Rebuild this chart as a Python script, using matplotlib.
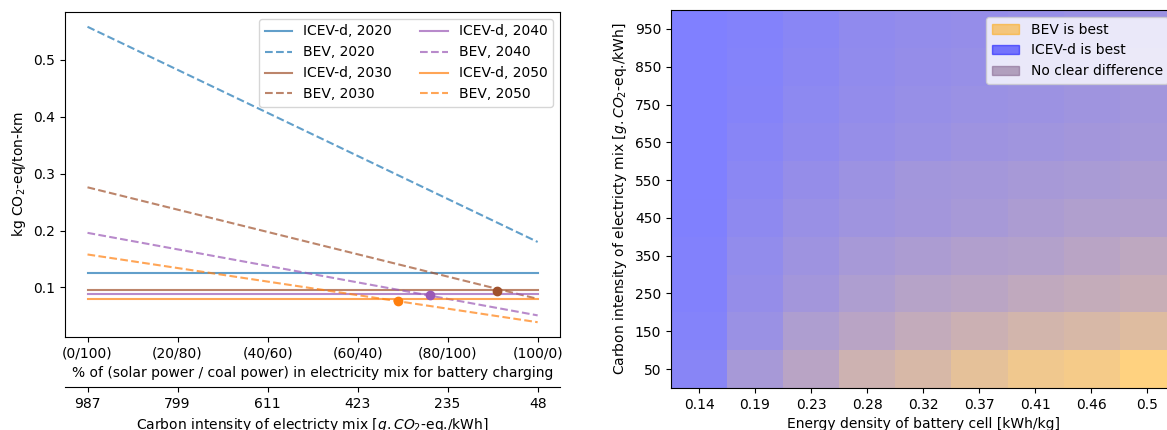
import numpy as np
import matplotlib
matplotlib.use("Agg")
import matplotlib.pyplot as plt
import matplotlib.patches as mpatches
from matplotlib.colors import LinearSegmentedColormap

# ---- left panel data ----
mix_ticks = [0, 20, 40, 60, 80, 100]
mix_labels = ['(0/100)', '(20/80)', '(40/60)', '(60/40)', '(80/100)', '(100/0)']
intensity_labels = ['987', '799', '611', '423', '235', '48']

years = [2020, 2030, 2040, 2050]
year_colors = ['tab:blue', 'sienna', '#9b59b6', 'tab:orange']
icev = [0.126, 0.096, 0.088, 0.0795]
bev_start = [0.558, 0.276, 0.196, 0.158]
bev_end = [0.180, 0.080, 0.051, 0.039]

# break-even points (2030, 2040, 2050)
cross_x = [91, 76, 69]
cross_y = [0.0935, 0.0865, 0.076]
cross_colors = ['sienna', '#9b59b6', 'tab:orange']

# ---- right panel data ----
energy_density = ['0.14', '0.19', '0.23', '0.28', '0.32', '0.37', '0.41', '0.46', '0.5']
intensity_rows = [50, 150, 250, 350, 450, 550, 650, 750, 850, 950]
# share of runs where BEV is best (rows from 50 up to 950)
bev_share = [
    [0.07, 0.31, 0.45, 0.61, 0.69, 0.80, 0.88, 0.92, 1.00],
    [0.04, 0.21, 0.37, 0.45, 0.53, 0.59, 0.65, 0.69, 0.74],
    [0.02, 0.17, 0.28, 0.37, 0.43, 0.46, 0.51, 0.54, 0.57],
    [0.02, 0.15, 0.24, 0.31, 0.35, 0.39, 0.41, 0.45, 0.49],
    [0.01, 0.12, 0.20, 0.25, 0.28, 0.31, 0.35, 0.38, 0.39],
    [0.00, 0.09, 0.17, 0.23, 0.27, 0.29, 0.31, 0.33, 0.35],
    [0.00, 0.07, 0.13, 0.18, 0.21, 0.24, 0.26, 0.28, 0.30],
    [0.00, 0.05, 0.11, 0.16, 0.19, 0.21, 0.23, 0.25, 0.27],
    [0.00, 0.04, 0.09, 0.14, 0.17, 0.19, 0.21, 0.23, 0.25],
    [0.00, 0.03, 0.08, 0.13, 0.16, 0.17, 0.19, 0.21, 0.23],
]

fig = plt.figure(figsize=(11.67, 4.3), dpi=100)
ax = fig.add_axes([0.0557, 0.2163, 0.4243, 0.7558])
ax_r = fig.add_axes([0.575, 0.0977, 0.432, 0.879])

# left: lines
for i, yr in enumerate(years):
    ax.plot([0, 100], [icev[i], icev[i]], color=year_colors[i], alpha=0.7,
            label='ICEV-d, %d' % yr)
    ax.plot([0, 100], [bev_start[i], bev_end[i]], '--', color=year_colors[i], alpha=0.7,
            label='BEV, %d' % yr)
for x, y, c in zip(cross_x, cross_y, cross_colors):
    ax.plot(x, y, 'o', color=c, markersize=6)

ax.set_xticks(mix_ticks, mix_labels)
ax.set_yticks([0.1, 0.2, 0.3, 0.4, 0.5])
ax.set_xlabel('% of (solar power / coal power) in electricity mix for battery charging')
ax.set_ylabel('kg CO$_2$-eq/ton-km')
ax.legend(ncol=2, loc='upper right')

ax2 = ax.twiny()
ax2.set_xlim(ax.get_xlim())
ax2.xaxis.set_ticks_position('bottom')
ax2.xaxis.set_label_position('bottom')
ax2.spines['bottom'].set_position(('outward', 36))
for s in ['top', 'left', 'right']:
    ax2.spines[s].set_visible(False)
ax2.set_xticks(mix_ticks, intensity_labels)
ax2.set_xlabel('Carbon intensity of electricty mix [$g.CO_2$-eq./kWh]')

# right: heatmap
cmap = LinearSegmentedColormap.from_list('mix', [(128/255, 128/255, 1.0), (1.0, 210/255, 128/255)])
ax_r.imshow(np.array(bev_share), cmap=cmap, vmin=0, vmax=1, origin='lower', aspect='auto',
            extent=[-0.5, len(energy_density) - 0.5, 0, 1000], interpolation='nearest')
ax_r.set_xticks(range(len(energy_density)), energy_density)
ax_r.set_yticks(intensity_rows)
ax_r.set_xlabel('Energy density of battery cell [kWh/kg]')
ax_r.set_ylabel('Carbon intensity of electricty mix [$g. CO_2$-eq./kWh]')

handles = [mpatches.Patch(color='orange', alpha=0.5, label='BEV is best'),
           mpatches.Patch(color='blue', alpha=0.5, label='ICEV-d is best'),
           mpatches.Patch(color='#7a5883', alpha=0.5, label='No clear difference')]
ax_r.legend(handles=handles, loc='upper right')

fig.savefig('out.png', dpi=100)
